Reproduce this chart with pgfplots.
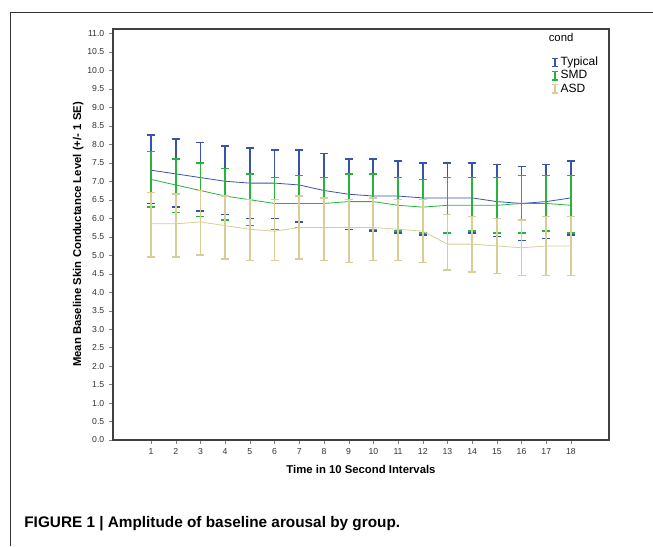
\documentclass[border=0pt]{standalone}
\usepackage{pgfplots}
\pgfplotsset{compat=1.18}
\usepackage{pgfplotstable}
\usepackage{fontspec}
\setmainfont{Liberation Sans}
\definecolor{cTyp}{RGB}{58,83,170}
\definecolor{cSMD}{RGB}{40,180,60}
\definecolor{cASD}{RGB}{215,205,150}
\pgfplotstableread{
x y ep em
1 7.30 0.95 0.90
2 7.20 0.95 0.90
3 7.10 0.95 0.90
4 7.00 0.95 0.90
5 6.95 0.95 0.95
6 6.95 0.90 0.95
7 6.90 0.95 1.00
8 6.75 1.00 1.00
9 6.65 0.95 0.95
10 6.60 1.00 0.95
11 6.60 0.95 1.00
12 6.55 0.95 1.00
13 6.55 0.95 0.95
14 6.55 0.95 0.95
15 6.45 1.00 0.95
16 6.40 1.00 1.00
17 6.45 1.00 1.00
18 6.55 1.00 1.00
}\typ
\pgfplotstableread{
x y ep em
1 7.05 0.75 0.75
2 6.90 0.70 0.75
3 6.75 0.75 0.70
4 6.60 0.75 0.65
5 6.50 0.70 0.70
6 6.40 0.70 0.70
7 6.40 0.75 0.65
8 6.40 0.70 0.65
9 6.45 0.75 0.70
10 6.45 0.75 0.75
11 6.35 0.75 0.70
12 6.30 0.75 0.70
13 6.35 0.75 0.75
14 6.35 0.75 0.70
15 6.35 0.75 0.75
16 6.40 0.75 0.80
17 6.40 0.75 0.75
18 6.35 0.80 0.75
}\smd
\pgfplotstableread{
x y ep em
1 5.85 0.85 0.90
2 5.85 0.80 0.90
3 5.90 0.85 0.90
4 5.80 0.80 0.90
5 5.70 0.80 0.85
6 5.65 0.85 0.80
7 5.75 0.85 0.85
8 5.75 0.80 0.90
9 5.75 0.75 0.95
10 5.75 0.80 0.90
11 5.70 0.80 0.85
12 5.65 0.85 0.85
13 5.30 0.80 0.70
14 5.30 0.75 0.75
15 5.25 0.75 0.75
16 5.20 0.75 0.75
17 5.25 0.80 0.80
18 5.25 0.80 0.80
}\asd
\pgfplotsset{ebar/.style={#1, line width=0.6pt, forget plot,
  error bars/.cd, y dir=both, y explicit,
  error bar style={line width=1.3pt,#1},
  error mark options={rotate=90,mark size=3pt,line width=1.1pt,#1}}}
\begin{document}
\begin{tikzpicture}
\path[use as bounding box] (-84.75pt,-79.5pt) rectangle (405pt,330pt);
\draw[line width=0.6pt,black!80] (-77.25pt,-79.5pt) -- (-77.25pt,321pt) -- (405pt,321pt);
\begin{axis}[
  at={(0,0)}, anchor=south west, scale only axis,
  width=372pt, height=308.25pt,
  xmin=-0.54, xmax=19.54, ymin=0, ymax=11.12,
  xtick={1,...,18}, ytick={0,0.5,...,11},
  yticklabel style={/pgf/number format/.cd,fixed,fixed zerofill,precision=1},
  /pgf/number format/assume math mode=true,
  tick label style={font=\fontsize{6.5}{7}\selectfont, text=black!80},
  tick align=outside, tick pos=left,
  major tick length=3pt,
  axis line style={line width=0.8pt, black!75},
  xlabel={\textbf{Time in 10 Second Intervals}},
  ylabel={\textbf{Mean Baseline Skin Conductance Level (+/- 1 SE)}},
  label style={font=\fontsize{8.5}{10}\selectfont},
  xlabel style={yshift=-1pt},
  ylabel style={yshift=-4pt},
  clip=false,
  legend style={draw=none, fill=none, at={(0.985,0.94)}, anchor=north east,
    font=\fontsize{9}{10}\selectfont, row sep=-1pt, inner sep=1pt,
    nodes={inner sep=1.5pt}},
  legend cell align=left,
  legend image code/.code={\draw[line width=1pt,#1] (0.25cm,-0.11cm) -- (0.25cm,0.11cm);
    \draw[line width=0.8pt,#1] (0.17cm,0.11cm) -- (0.33cm,0.11cm) (0.17cm,-0.11cm) -- (0.33cm,-0.11cm);},
]
\addplot[ebar=cTyp] table[x=x,y=y,y error plus=ep,y error minus=em]{\typ};
\addplot[ebar=cSMD] table[x=x,y=y,y error plus=ep,y error minus=em]{\smd};
\addplot[ebar=cASD] table[x=x,y=y,y error plus=ep,y error minus=em]{\asd};
\addlegendimage{cTyp}\addlegendentry{Typical}
\addlegendimage{cSMD}\addlegendentry{SMD}
\addlegendimage{cASD}\addlegendentry{ASD}
\node[font=\fontsize{8.5}{9}\selectfont, anchor=south] at (axis cs:17.6,10.65) {cond};
\end{axis}
\node[anchor=west, font=\fontsize{11.5}{13}\selectfont\bfseries] at (-70pt,-63pt) {FIGURE 1 | Amplitude of baseline arousal by group.};
\end{tikzpicture}
\end{document}
